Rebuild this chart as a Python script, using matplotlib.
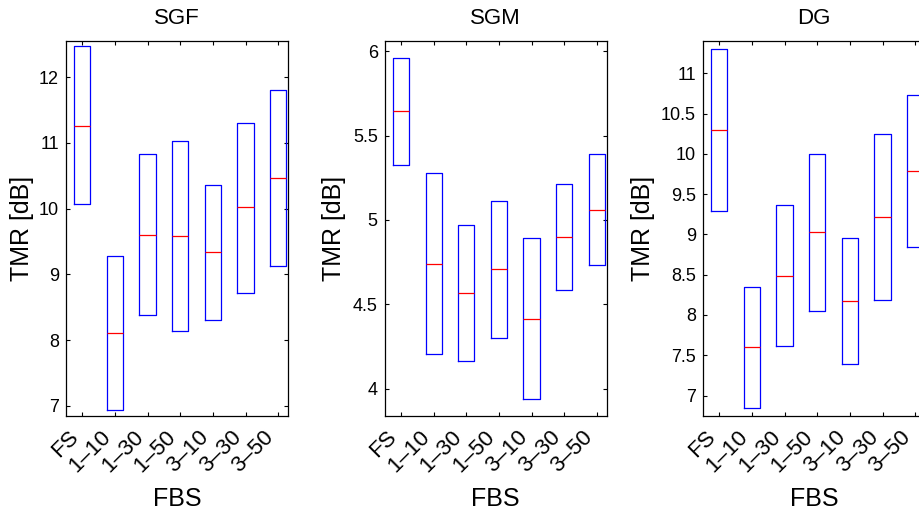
import matplotlib
matplotlib.use("Agg")
import matplotlib.pyplot as plt
from matplotlib.ticker import FormatStrFormatter

plt.rcParams['font.family'] = ['Liberation Sans', 'DejaVu Sans']

categories = ["FS", "1–10", "1–30", "1–50", "3–10", "3–30", "3–50"]

# box top / median / bottom for each panel
sgf_top = [12.47, 9.28, 10.83, 11.03, 10.36, 11.30, 11.81]
sgf_med = [11.26, 8.11, 9.60, 9.58, 9.34, 10.02, 10.46]
sgf_bot = [10.07, 6.94, 8.38, 8.14, 8.30, 8.72, 9.12]

sgm_top = [5.96, 5.28, 4.97, 5.11, 4.89, 5.21, 5.39]
sgm_med = [5.645, 4.74, 4.565, 4.707, 4.415, 4.90, 5.061]
sgm_bot = [5.327, 4.204, 4.166, 4.30, 3.94, 4.585, 4.733]

dg_top = [11.305, 8.347, 9.368, 9.993, 8.95, 10.24, 10.736]
dg_med = [10.298, 7.597, 8.488, 9.025, 8.173, 9.214, 9.79]
dg_bot = [9.292, 6.848, 7.609, 8.046, 7.397, 8.186, 8.847]

panels = [
    ("SGF", sgf_top, sgf_med, sgf_bot, (6.85, 12.55), [7, 8, 9, 10, 11, 12], 66, -0.196),
    ("SGM", sgm_top, sgm_med, sgm_bot, (3.84, 6.06), [4, 4.5, 5, 5.5, 6], 384.7, -0.228),
    ("DG", dg_top, dg_med, dg_bot, (6.75, 11.40), [7, 7.5, 8, 8.5, 9, 9.5, 10, 10.5, 11], 703, -0.272),
]

W, H = 920, 516
fig = plt.figure(figsize=(W / 100, H / 100), dpi=100)

for title, top, med, bot, ylim, yticks, left_px, ylab_x in panels:
    ax = fig.add_axes([left_px / W, (H - 415.7) / H, 222 / W, 374.7 / H])
    stats = []
    for t, m, b, lab in zip(top, med, bot, categories):
        stats.append({"q1": b, "med": m, "q3": t, "whislo": b, "whishi": t,
                      "fliers": [], "label": lab})
    ax.bxp(stats, positions=range(1, 8), widths=0.5, showcaps=False,
           showfliers=False,
           boxprops=dict(color="#0000ff", linewidth=0.9),
           whiskerprops=dict(color="#0000ff", linewidth=0),
           medianprops=dict(color="#ff0000", linewidth=0.9))
    ax.set_xlim(0.5, 7.3)
    ax.set_ylim(*ylim)
    ax.set_yticks(yticks)
    ax.yaxis.set_major_formatter(FormatStrFormatter('%g'))
    ax.set_xticks(range(1, 8))
    ax.set_xticklabels(categories, rotation=45, ha='right', va='top', fontsize=16)
    ax.tick_params(axis='both', direction='in', length=3, width=0.8,
                   top=True, right=True, colors='black')
    ax.tick_params(axis='x', pad=8)
    ax.tick_params(axis='y', labelsize=13, pad=5)
    for sp in ax.spines.values():
        sp.set_linewidth(0.9)
        sp.set_color('black')
    ax.set_title(title, fontsize=16, pad=12)
    ax.set_xlabel("FBS", fontsize=18)
    ax.xaxis.set_label_coords(0.5, -0.19)
    ax.set_ylabel("TMR [dB]", fontsize=18, va='center')
    ax.yaxis.set_label_coords(ylab_x, 0.5)

fig.savefig("out.png", dpi=100)
